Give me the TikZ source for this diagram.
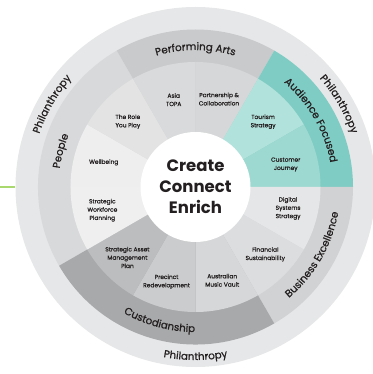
\documentclass[tikz,border=0pt]{standalone}
\usepackage{fontspec}
\setmainfont{Poppins}
\newfontfamily\medfont[FakeBold=0.7]{Poppins}
\usetikzlibrary{decorations.text}
\definecolor{philgris}{HTML}{E6E7E8}
\definecolor{peoplegris}{HTML}{D8D9DA}
\definecolor{perfgris}{HTML}{C9CACB}
\definecolor{audvert}{HTML}{7FCCC4}
\definecolor{busgris}{HTML}{D1D2D3}
\definecolor{custgris}{HTML}{A8A9AA}
\definecolor{textgris}{HTML}{231F20}
\definecolor{ligne}{HTML}{A8D86E}
\definecolor{wellbeing}{HTML}{EEEEEF}
\definecolor{roleplay}{HTML}{E3E3E4}
\definecolor{asiatopa}{HTML}{D9DADB}
\definecolor{partner}{HTML}{D6D7D8}
\definecolor{tourism}{HTML}{B2E2DC}
\definecolor{customer}{HTML}{9ED9D1}
\definecolor{digital}{HTML}{E5E6E7}
\definecolor{financial}{HTML}{DCDDDE}
\definecolor{musicvault}{HTML}{D6D7D8}
\definecolor{precinct}{HTML}{CBCCCD}
\definecolor{asset}{HTML}{BCBDBE}
\definecolor{workforce}{HTML}{EFEFF0}
\newcommand{\catfont}{\fontsize{10.3}{12}\medfont\color{textgris}}

\begin{document}
\begin{tikzpicture}
\tikzset{petit/.style={font=\fontsize{5.9}{8.3}\medfont, align=center, text=textgris}}
\tikzset{anneau/.style={decorate, decoration={text along path, text align=center, text={#1}}}}
\useasboundingbox (-195.5pt,-187pt) rectangle (176.5pt,187pt);
\coordinate (G1) at (-195.5pt,0pt);
\coordinate (G2) at (180:180pt);
\draw[ligne, line width=1.2pt] (G1) -- (G2);
\fill[philgris] (0,0) circle (180pt);
\fill[peoplegris] (0,0) -- (120:157.5pt) arc[start angle=120, end angle=210, radius=157.5pt] -- cycle;
\fill[perfgris] (0,0) -- (60:157.5pt) arc[start angle=60, end angle=120, radius=157.5pt] -- cycle;
\fill[audvert] (0,0) -- (0:157.5pt) arc[start angle=0, end angle=60, radius=157.5pt] -- cycle;
\fill[busgris] (0,0) -- (-60:157.5pt) arc[start angle=-60, end angle=0, radius=157.5pt] -- cycle;
\fill[custgris] (0,0) -- (-150:157.5pt) arc[start angle=-150, end angle=-60, radius=157.5pt] -- cycle;
\fill[wellbeing] (0,0) -- (150:125pt) arc[start angle=150, end angle=180, radius=125pt] -- cycle;
\fill[roleplay] (0,0) -- (120:125pt) arc[start angle=120, end angle=150, radius=125pt] -- cycle;
\fill[asiatopa] (0,0) -- (90:125pt) arc[start angle=90, end angle=120, radius=125pt] -- cycle;
\fill[partner] (0,0) -- (60:125pt) arc[start angle=60, end angle=90, radius=125pt] -- cycle;
\fill[tourism] (0,0) -- (30:125pt) arc[start angle=30, end angle=60, radius=125pt] -- cycle;
\fill[customer] (0,0) -- (0:125pt) arc[start angle=0, end angle=30, radius=125pt] -- cycle;
\fill[digital] (0,0) -- (-30:125pt) arc[start angle=-30, end angle=0, radius=125pt] -- cycle;
\fill[financial] (0,0) -- (-60:125pt) arc[start angle=-60, end angle=-30, radius=125pt] -- cycle;
\fill[musicvault] (0,0) -- (-90:125pt) arc[start angle=-90, end angle=-60, radius=125pt] -- cycle;
\fill[precinct] (0,0) -- (-120:125pt) arc[start angle=-120, end angle=-90, radius=125pt] -- cycle;
\fill[asset] (0,0) -- (-150:125pt) arc[start angle=-150, end angle=-120, radius=125pt] -- cycle;
\fill[workforce] (0,0) -- (180:125pt) arc[start angle=180, end angle=210, radius=125pt] -- cycle;
\node[circle, fill=white, minimum size=110pt, inner sep=0pt, align=center, text=textgris,
  font=\fontsize{16.5}{21}\selectfont\bfseries] (C) at (0,0) {Create\\Connect\\Enrich};
\path[anneau={|\catfont|Performing Arts}] (120:137pt) arc[start angle=120, end angle=60, radius=137pt];
\path[anneau={|\catfont|People}] (210:137pt) arc[start angle=210, end angle=120, radius=137pt];
\path[anneau={|\catfont|Audience Focused}] (60:137pt) arc[start angle=60, end angle=0, radius=137pt];
\path[anneau={|\catfont|Business Excellence}] (-60:145pt) arc[start angle=-60, end angle=0, radius=145pt];
\path[anneau={|\catfont|Custodianship}] (-150:145pt) arc[start angle=-150, end angle=-60, radius=145pt];
\path[anneau={|\catfont|Philanthropy}] (180:165pt) arc[start angle=180, end angle=120, radius=165pt];
\path[anneau={|\catfont|Philanthropy}] (60:165pt) arc[start angle=60, end angle=0, radius=165pt];
\path[anneau={|\catfont|Philanthropy}] (-120:173pt) arc[start angle=-120, end angle=-60, radius=173pt];
\node[petit] (L1) at (165:95pt) {Wellbeing};
\node[petit] (L2) at (136:94pt) {The Role\\You Play};
\node[petit] (L3) at (104:90pt) {Asia\\TOPA};
\node[petit] (L4) at (75:91pt) {Partnership \&\\Collaboration};
\node[petit] (L5) at (44:94pt) {Tourism\\Strategy};
\node[petit] (L6) at (14:93pt) {Customer\\Journey};
\node[petit] (L7) at (-13:95pt) {Digital\\Systems\\Strategy};
\node[petit] (L8) at (-44:97pt) {Financial\\Sustainability};
\node[petit] (L9) at (-74:97pt) {Australian\\Music Vault};
\node[petit] (L10) at (-107:99pt) {Precinct\\Redevelopment};
\node[petit] (L11) at (-134:98pt) {Strategic Asset\\Management\\Plan};
\node[petit] (L12) at (-166:96pt) {Strategic\\Workforce\\Planning};
\end{tikzpicture}
\end{document}
